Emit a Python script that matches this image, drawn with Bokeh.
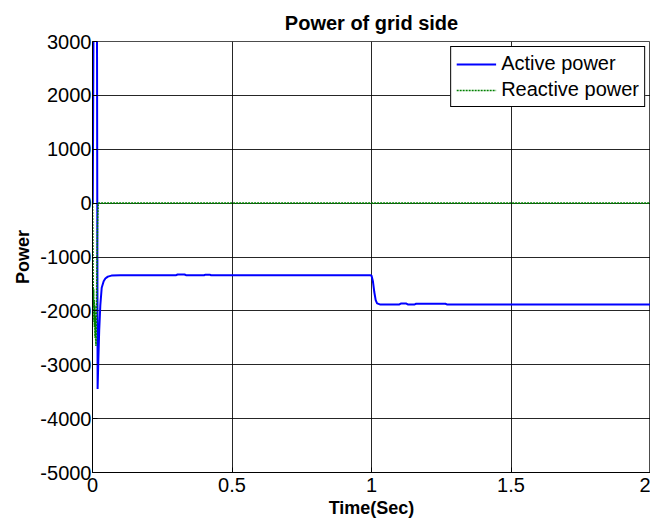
from bokeh.plotting import figure
from bokeh.models import FixedTicker, CustomJSTickFormatter, Legend, LegendItem
from bokeh.embed import file_html
from bokeh.resources import INLINE

# Active power (W) vs time (s)
active_t = [0.0, 0.001, 0.005, 0.010, 0.0155, 0.0183, 0.021, 0.024, 0.028, 0.033,
            0.040, 0.046, 0.055, 0.068, 0.10, 0.20, 0.30, 0.305, 0.33, 0.335,
            0.40, 0.405, 0.42, 0.425, 0.50, 0.70, 0.90, 0.995, 1.000, 1.005,
            1.010, 1.015, 1.020, 1.030, 1.10, 1.105, 1.125, 1.13, 1.155, 1.16,
            1.265, 1.27, 1.50, 1.75, 2.0]
active_p = [0, 0, 5000, 5000, 5000, -3450, -2900, -2370, -1900, -1570,
            -1450, -1400, -1365, -1345, -1340, -1340, -1338, -1325, -1325, -1338,
            -1338, -1328, -1328, -1338, -1338, -1338, -1338, -1338, -1345, -1450,
            -1650, -1800, -1860, -1880, -1880, -1865, -1865, -1880, -1880, -1868,
            -1868, -1880, -1880, -1880, -1880]

# Reactive power (var) vs time (s)
reactive_t = [0.0, 0.001, 0.002, 0.003, 0.004, 0.005, 0.006, 0.007, 0.008, 0.009,
              0.010, 0.011, 0.0125, 0.014, 0.016, 0.018, 0.020, 0.021, 0.5, 1.0,
              1.5, 2.0]
reactive_q = [0, -600, -1400, -1900, -1600, -2200, -1800, -2300, -1900, -2500,
              -2100, -2450, -2650, -2100, -1200, -400, -50, 0, 0, 0,
              0, 0]

x_ticks = [0, 0.5, 1, 1.5, 2]
y_ticks = [3000, 2000, 1000, 0, -1000, -2000, -3000, -4000, -5000]

FONT = "Liberation Sans"

p = figure(width=650, height=520, output_backend="svg", toolbar_location=None,
           x_range=(0, 2), y_range=(-5000, 3000),
           title="Power of grid side",
           min_border_left=92, min_border_right=0, min_border_top=41,
           min_border_bottom=40)

p.title.align = "center"
p.title.text_font = FONT
p.title.text_font_size = "20px"
p.title.text_font_style = "bold"
p.title.text_color = "black"
p.title.offset = 0
p.title.standoff = 16

r1 = p.line(active_t, active_p, line_color="#0000FF", line_width=2)
r2 = p.line(reactive_t, reactive_q, line_color="#008000", line_width=1.6,
            line_dash="2 1")

for ax in (p.xaxis[0], p.yaxis[0]):
    ax.major_label_text_font = FONT
    ax.major_label_text_font_size = "20px"
    ax.major_label_text_color = "black"
    ax.axis_label_text_font = FONT
    ax.axis_label_text_font_size = "18px"
    ax.axis_label_text_font_style = "bold"
    ax.axis_label_text_color = "black"
    ax.major_tick_in = 5
    ax.major_tick_out = 0
    ax.minor_tick_line_color = None
    ax.axis_line_color = "black"
    ax.major_tick_line_color = "black"
    ax.formatter = CustomJSTickFormatter(code="return tick.toString();")

p.xaxis[0].ticker = FixedTicker(ticks=x_ticks)
p.yaxis[0].ticker = FixedTicker(ticks=y_ticks)
p.xaxis[0].axis_label = "Time(Sec)"
p.yaxis[0].axis_label = "Power"
p.xaxis[0].major_label_standoff = 5
p.xaxis[0].axis_label_standoff = 3
p.yaxis[0].major_label_standoff = 1
p.yaxis[0].axis_label_standoff = 4

p.xgrid.grid_line_color = "black"
p.ygrid.grid_line_color = "black"
p.xgrid.grid_line_alpha = 0.85
p.ygrid.grid_line_alpha = 0.85
p.xgrid.ticker = FixedTicker(ticks=x_ticks)
p.ygrid.ticker = FixedTicker(ticks=y_ticks)
p.outline_line_color = "black"
p.outline_line_alpha = 0.7
p.background_fill_color = "white"
p.border_fill_color = "white"

legend = Legend(items=[LegendItem(label="Active power", renderers=[r1]),
                       LegendItem(label="Reactive power", renderers=[r2])],
                location="top_right")
legend.label_text_font = FONT
legend.label_text_font_size = "20px"
legend.label_text_color = "black"
legend.border_line_color = "black"
legend.border_line_alpha = 1
legend.background_fill_alpha = 1
legend.glyph_width = 40
legend.glyph_height = 20
legend.label_height = 20
legend.spacing = 3
legend.padding = 5
legend.margin = 5
legend.label_standoff = 5
p.add_layout(legend)

open("out.html", "w").write(file_html(p, INLINE))
